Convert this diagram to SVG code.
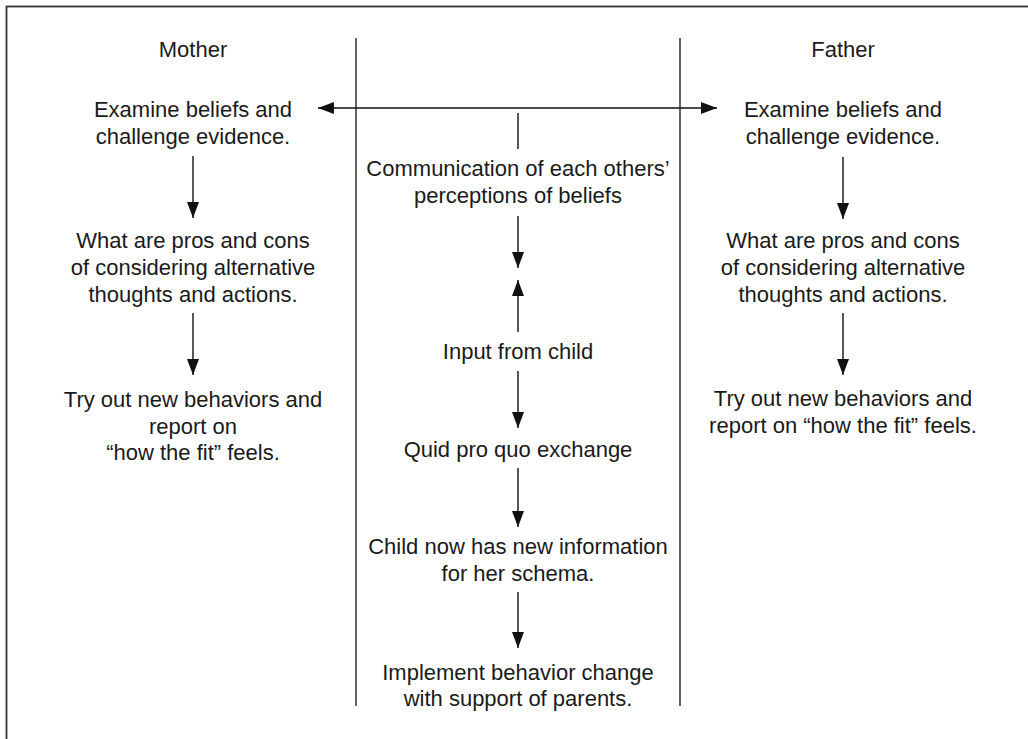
<svg xmlns="http://www.w3.org/2000/svg" width="1028" height="739" viewBox="0 0 1028 739">
  <style>
    .lbl { font-family: "Liberation Sans", Arial, sans-serif; font-size: 22px; fill: #1a1a1a; text-anchor: middle; }
    .rule { stroke: #222; stroke-width: 1.4; fill: none; }
    .conn { stroke: #111; stroke-width: 1.4; fill: none; }
  </style>
  <defs>
    <marker id="head" viewBox="0 0 16 12" refX="16" refY="6" markerWidth="16" markerHeight="12" markerUnits="userSpaceOnUse" orient="auto-start-reverse">
      <path d="M0,0 L16,6 L0,12 Z" fill="#111"/>
    </marker>
  </defs>

  <rect width="1028" height="739" fill="#fff"/>

  <!-- outer frame (open past the right and bottom edges) -->
  <rect x="6.5" y="6.5" width="1100" height="1000" fill="none" stroke="#333" stroke-width="1.8"/>

  <!-- column dividers -->
  <g id="dividers">
    <line class="rule" x1="356" y1="38" x2="356" y2="706"/>
    <line class="rule" x1="680" y1="38" x2="680" y2="706"/>
  </g>

  <!-- mother column -->
  <g id="mother-title"><text class="lbl" x="193" y="57">Mother</text></g>
  <g id="mother-examine">
    <text class="lbl" x="193" y="117">Examine beliefs and</text>
    <text class="lbl" x="193" y="144">challenge evidence.</text>
  </g>
  <g id="mother-proscons">
    <text class="lbl" x="193" y="248">What are pros and cons</text>
    <text class="lbl" x="193" y="275">of considering alternative</text>
    <text class="lbl" x="193" y="302">thoughts and actions.</text>
  </g>
  <g id="mother-tryout">
    <text class="lbl" x="193" y="407">Try out new behaviors and</text>
    <text class="lbl" x="193" y="434">report on</text>
    <text class="lbl" x="193" y="460">“how the fit” feels.</text>
  </g>

  <!-- father column -->
  <g id="father-title"><text class="lbl" x="843" y="57">Father</text></g>
  <g id="father-examine">
    <text class="lbl" x="843" y="117">Examine beliefs and</text>
    <text class="lbl" x="843" y="144">challenge evidence.</text>
  </g>
  <g id="father-proscons">
    <text class="lbl" x="843" y="248">What are pros and cons</text>
    <text class="lbl" x="843" y="275">of considering alternative</text>
    <text class="lbl" x="843" y="302">thoughts and actions.</text>
  </g>
  <g id="father-tryout">
    <text class="lbl" x="843" y="406">Try out new behaviors and</text>
    <text class="lbl" x="843" y="433">report on “how the fit” feels.</text>
  </g>

  <!-- shared (middle) column -->
  <g id="communication">
    <text class="lbl" x="518" y="176">Communication of each others’</text>
    <text class="lbl" x="518" y="203">perceptions of beliefs</text>
  </g>
  <g id="input-child"><text class="lbl" x="518" y="359">Input from child</text></g>
  <g id="quid-pro-quo"><text class="lbl" x="518" y="457">Quid pro quo exchange</text></g>
  <g id="new-information">
    <text class="lbl" x="518" y="554">Child now has new information</text>
    <text class="lbl" x="518" y="581">for her schema.</text>
  </g>
  <g id="implement">
    <text class="lbl" x="518" y="680">Implement behavior change</text>
    <text class="lbl" x="518" y="706">with support of parents.</text>
  </g>

  <!-- connectors -->
  <g id="connectors">
    <line class="conn" x1="318" y1="108" x2="717" y2="108" marker-start="url(#head)" marker-end="url(#head)"/>
    <line class="conn" x1="518" y1="113" x2="518" y2="149"/>
    <line class="conn" x1="518" y1="216" x2="518" y2="268" marker-end="url(#head)"/>
    <line class="conn" x1="518" y1="332" x2="518" y2="280" marker-end="url(#head)"/>
    <line class="conn" x1="518" y1="371" x2="518" y2="428" marker-end="url(#head)"/>
    <line class="conn" x1="518" y1="468" x2="518" y2="527" marker-end="url(#head)"/>
    <line class="conn" x1="518" y1="592" x2="518" y2="648" marker-end="url(#head)"/>

    <line class="conn" x1="193" y1="156" x2="193" y2="218" marker-end="url(#head)"/>
    <line class="conn" x1="193" y1="313" x2="193" y2="375" marker-end="url(#head)"/>

    <line class="conn" x1="843" y1="157" x2="843" y2="219" marker-end="url(#head)"/>
    <line class="conn" x1="843" y1="313" x2="843" y2="375" marker-end="url(#head)"/>
  </g>
</svg>
